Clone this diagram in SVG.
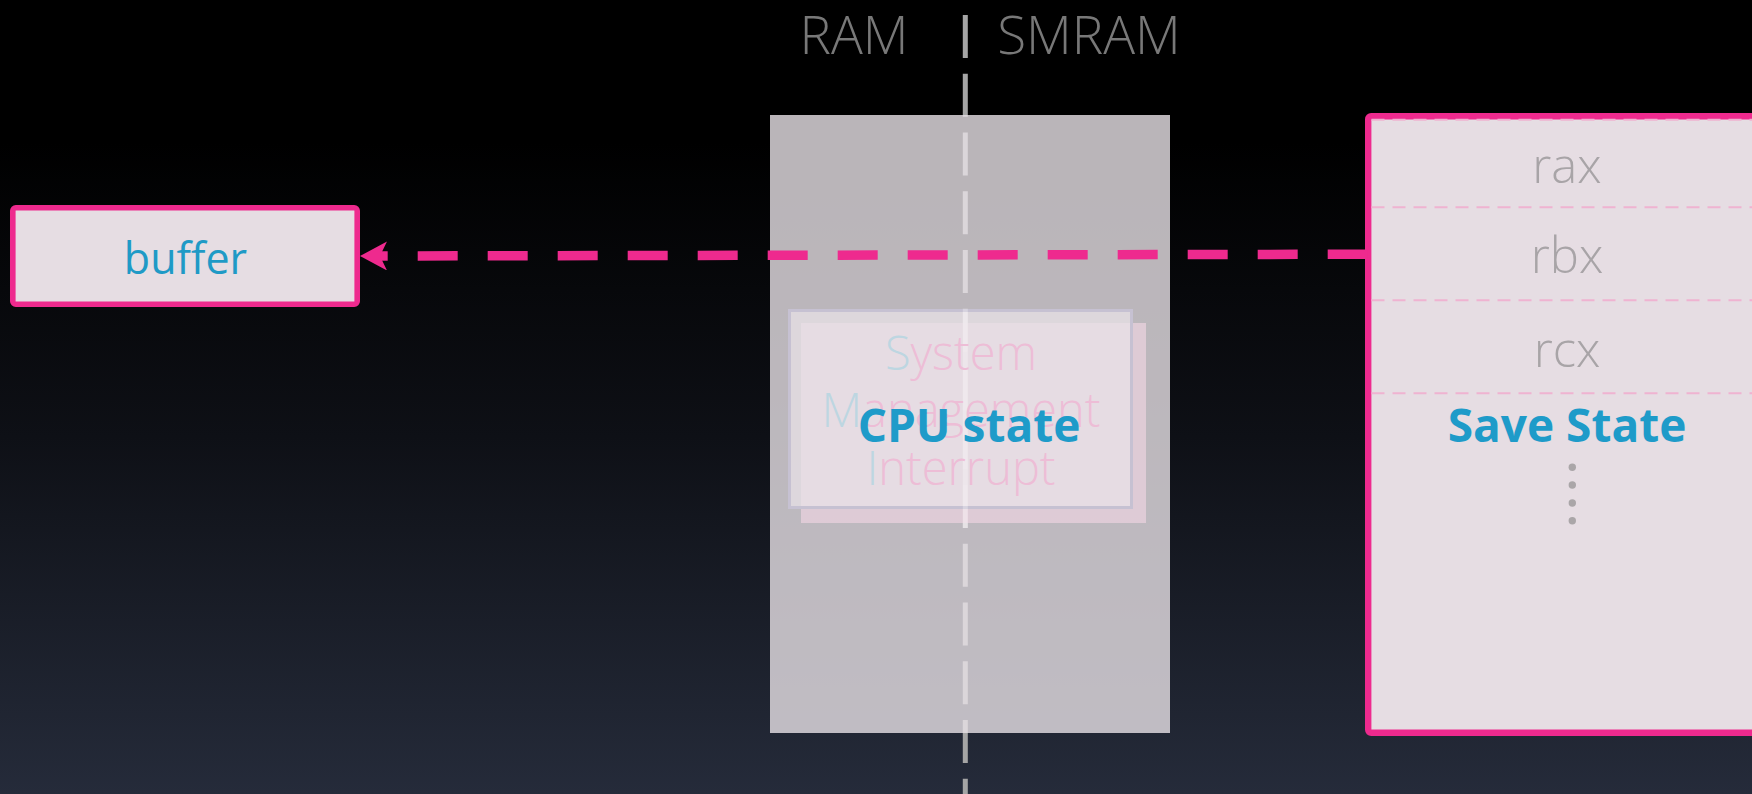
<svg xmlns="http://www.w3.org/2000/svg" width="1752" height="794" viewBox="0 0 1752 794">
  <defs>
    <linearGradient id="bg" x1="0" y1="0" x2="0" y2="1">
      <stop offset="0" stop-color="#000000"/>
      <stop offset="0.18" stop-color="#000000"/>
      <stop offset="0.55" stop-color="#0e1016"/>
      <stop offset="1" stop-color="#252b3a"/>
    </linearGradient>
    <marker id="arrow" viewBox="0 0 27 29" refX="17" refY="14.5" markerWidth="27" markerHeight="29" markerUnits="userSpaceOnUse" orient="auto">
      <path d="M0,0 L27,14.5 L0,29 L7,14.5 Z" fill="#ee2a8e"/>
    </marker>
    <style>
      text { font-family: 'Open Sans', 'Noto Sans', 'DejaVu Sans', sans-serif; text-anchor: middle; }
      .region { font-size: 53px; font-weight: 300; fill: #787878; }
      .title { font-size: 46px; font-weight: 700; fill: #1e9bc9; }
      .reg { font-size: 49px; font-weight: 300; fill: #a8a4a7; }
      .smi { font-size: 47px; font-weight: 300; }
      .smi-b { fill: #bdd6e1; }
      .smi-p { fill: #edbdd6; }
      .node { fill: #e6dde3; stroke: #ee2a8e; }
      .sep { stroke: #efb3d1; stroke-width: 2; stroke-dasharray: 13 8; fill: none; }
      .dot { fill: #aaa6a8; }
    </style>
  </defs>

  <!-- background -->
  <rect x="0" y="0" width="1752" height="794" fill="url(#bg)"/>

  <!-- RAM / SMRAM boundary -->
  <g id="boundary">
    <line x1="965.3" y1="15" x2="965.3" y2="794" stroke="#a5a5a5" stroke-width="5" stroke-dasharray="43 15.75"/>
    <text class="region" x="854" y="54">RAM</text>
    <text class="region" x="1089" y="54">SMRAM</text>
  </g>

  <!-- memory column spanning both regions -->
  <g id="memory">
    <rect x="770" y="115" width="400" height="618" fill="#e9e2e7" fill-opacity="0.8"/>
  </g>

  <!-- CPU state card -->
  <g id="cpu-state">
    <rect x="801" y="323" width="345" height="200" fill="#ecd3df" fill-opacity="0.7"/>
    <rect x="789.5" y="310.5" width="342" height="197" fill="#e8e2e7" fill-opacity="0.75" stroke="#c6c1d2" stroke-width="3"/>
    <rect x="962.8" y="309" width="5" height="219" fill="#ffffff" fill-opacity="0.3"/>
    <text class="smi" x="961" y="370"><tspan class="smi-b">S</tspan><tspan class="smi-p">ystem</tspan></text>
    <text class="smi" x="961" y="427"><tspan class="smi-b">M</tspan><tspan class="smi-p">anagement</tspan></text>
    <text class="smi" x="961" y="485"><tspan class="smi-b">I</tspan><tspan class="smi-p">nterrupt</tspan></text>
    <text class="title" x="969" y="442">CPU state</text>
  </g>

  <!-- buffer in RAM -->
  <g id="buffer">
    <rect class="node" x="12.8" y="207.8" width="344.4" height="96.4" rx="3" stroke-width="5.6"/>
    <text x="185.5" y="274" font-size="43" fill="#1f9ac6">buffer</text>
  </g>

  <!-- SMRAM save state area -->
  <g id="save-state">
    <rect class="node" x="1368.2" y="116.2" width="450" height="616.6" rx="3" stroke-width="6.4"/>
    <line class="sep" x1="1371.5" y1="119.8" x2="1752" y2="119.8"/>
    <line class="sep" x1="1371.5" y1="207.3" x2="1752" y2="207.3"/>
    <line class="sep" x1="1371.5" y1="300.3" x2="1752" y2="300.3"/>
    <line class="sep" x1="1371.5" y1="393.3" x2="1752" y2="393.3"/>
    <text class="reg" x="1567" y="183">rax</text>
    <text class="reg" x="1567" y="273">rbx</text>
    <text class="reg" x="1567" y="367">rcx</text>
    <text class="title" x="1567" y="442" font-size="44.5">Save State</text>
    <circle class="dot" cx="1572.3" cy="467.3" r="3.7"/>
    <circle class="dot" cx="1572.3" cy="485" r="3.7"/>
    <circle class="dot" cx="1572.3" cy="503" r="3.7"/>
    <circle class="dot" cx="1572.3" cy="520.7" r="3.7"/>
  </g>

  <!-- connectors -->
  <g id="connectors">
    <path d="M1372.7,254.2 L370,256" fill="none" stroke="#ee2a8e" stroke-width="9.5" stroke-dasharray="40 30" stroke-dashoffset="65" marker-end="url(#arrow)"/>
  </g>
</svg>
